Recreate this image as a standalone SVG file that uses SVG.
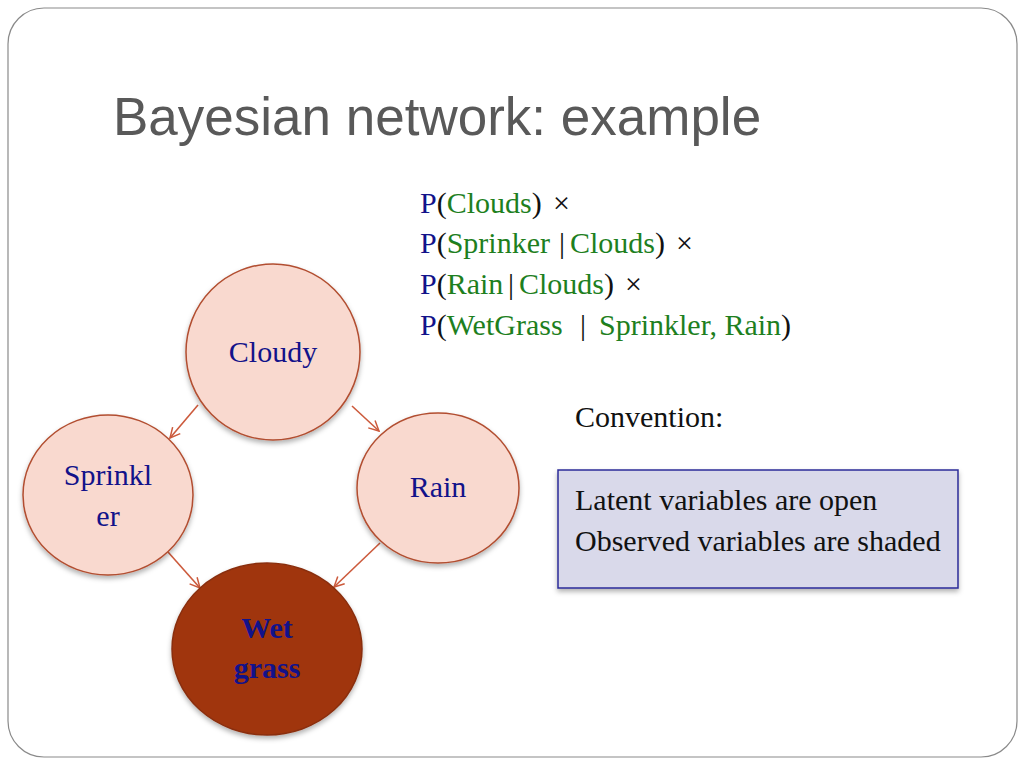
<svg xmlns="http://www.w3.org/2000/svg" width="1024" height="768" viewBox="0 0 1024 768">
<style>
.node{fill:#f9d9cf;stroke:#b24e30;stroke-width:1.5}
.obs{fill:#a0360f;stroke:#8a2e0d;stroke-width:1.5}
.lbl{font-family:"Liberation Serif",serif;font-size:30px;fill:#12128a;text-anchor:middle}
.f{font-family:"Liberation Serif",serif;font-size:30px;fill:#111}
.b{fill:#12128a}
.g{fill:#1e7f1e}
.edge{stroke:#cc5a3c;stroke-width:1.6;fill:none;marker-end:url(#ah)}
</style>
<defs>
<marker id="ah" viewBox="0 0 12 12" refX="11" refY="6" markerWidth="12" markerHeight="12" markerUnits="userSpaceOnUse" orient="auto">
<path d="M1,1 L11,6 L1,11" fill="none" stroke="#cc5a3c" stroke-width="1.5"/>
</marker>
<filter id="sh" x="-20%" y="-20%" width="140%" height="150%">
<feDropShadow dx="0" dy="3" stdDeviation="2.5" flood-color="#000" flood-opacity="0.3"/>
</filter>
</defs>
<rect x="8" y="8" width="1009" height="749" rx="36" ry="36" fill="#fff" stroke="#8a8a8a" stroke-width="1.2"/>
<text x="113" y="135" font-family="'Liberation Sans',Arial,sans-serif" font-size="53" fill="#595959">Bayesian network: example</text>

<g id="formula" class="f">
<text x="420" y="213"><tspan class="b">P</tspan>(<tspan class="g">Clouds</tspan>) <tspan x="553">×</tspan></text>
<text x="420" y="253"><tspan class="b">P</tspan>(<tspan class="g">Sprinker</tspan><tspan x="559">|</tspan><tspan class="g" x="570">Clouds</tspan>) <tspan x="676">×</tspan></text>
<text x="420" y="294"><tspan class="b">P</tspan>(<tspan class="g">Rain</tspan><tspan x="508">|</tspan><tspan class="g" x="519">Clouds</tspan>) <tspan x="625">×</tspan></text>
<text x="420" y="335"><tspan class="b">P</tspan>(<tspan class="g">WetGrass</tspan><tspan x="580">|</tspan><tspan class="g" x="599">Sprinkler, Rain</tspan>)</text>
</g>

<g id="connectors">
<line class="edge" x1="198" y1="405" x2="170" y2="438"/>
<line class="edge" x1="352" y1="406" x2="379" y2="431"/>
<line class="edge" x1="168" y1="552" x2="200" y2="588"/>
<line class="edge" x1="380" y1="543" x2="334" y2="587"/>
</g>

<g id="cloudy">
<ellipse class="node" filter="url(#sh)" cx="273" cy="352" rx="87" ry="88"/>
<text class="lbl" x="273" y="362">Cloudy</text>
</g>
<g id="sprinkler">
<ellipse class="node" filter="url(#sh)" cx="108" cy="495" rx="85" ry="80"/>
<text class="lbl" x="108" y="485">Sprinkl</text>
<text class="lbl" x="108" y="526">er</text>
</g>
<g id="rain">
<ellipse class="node" filter="url(#sh)" cx="438" cy="488" rx="81" ry="75"/>
<text class="lbl" x="438" y="497">Rain</text>
</g>
<g id="wetgrass">
<ellipse class="obs" filter="url(#sh)" cx="267" cy="649" rx="95" ry="86"/>
<text class="lbl" x="267" y="638" font-weight="bold" font-size="31">Wet</text>
<text class="lbl" x="267" y="678" font-weight="bold" font-size="31">grass</text>
</g>

<text class="f" x="575" y="427">Convention:</text>
<g id="convention">
<rect x="558" y="470" width="400" height="118" fill="#d9d9ea" stroke="#2b2b99" stroke-width="1.5" filter="url(#sh)"/>
<text class="f" x="575" y="510">Latent variables are open</text>
<text class="f" x="575" y="551">Observed variables are shaded</text>
</g>
</svg>
